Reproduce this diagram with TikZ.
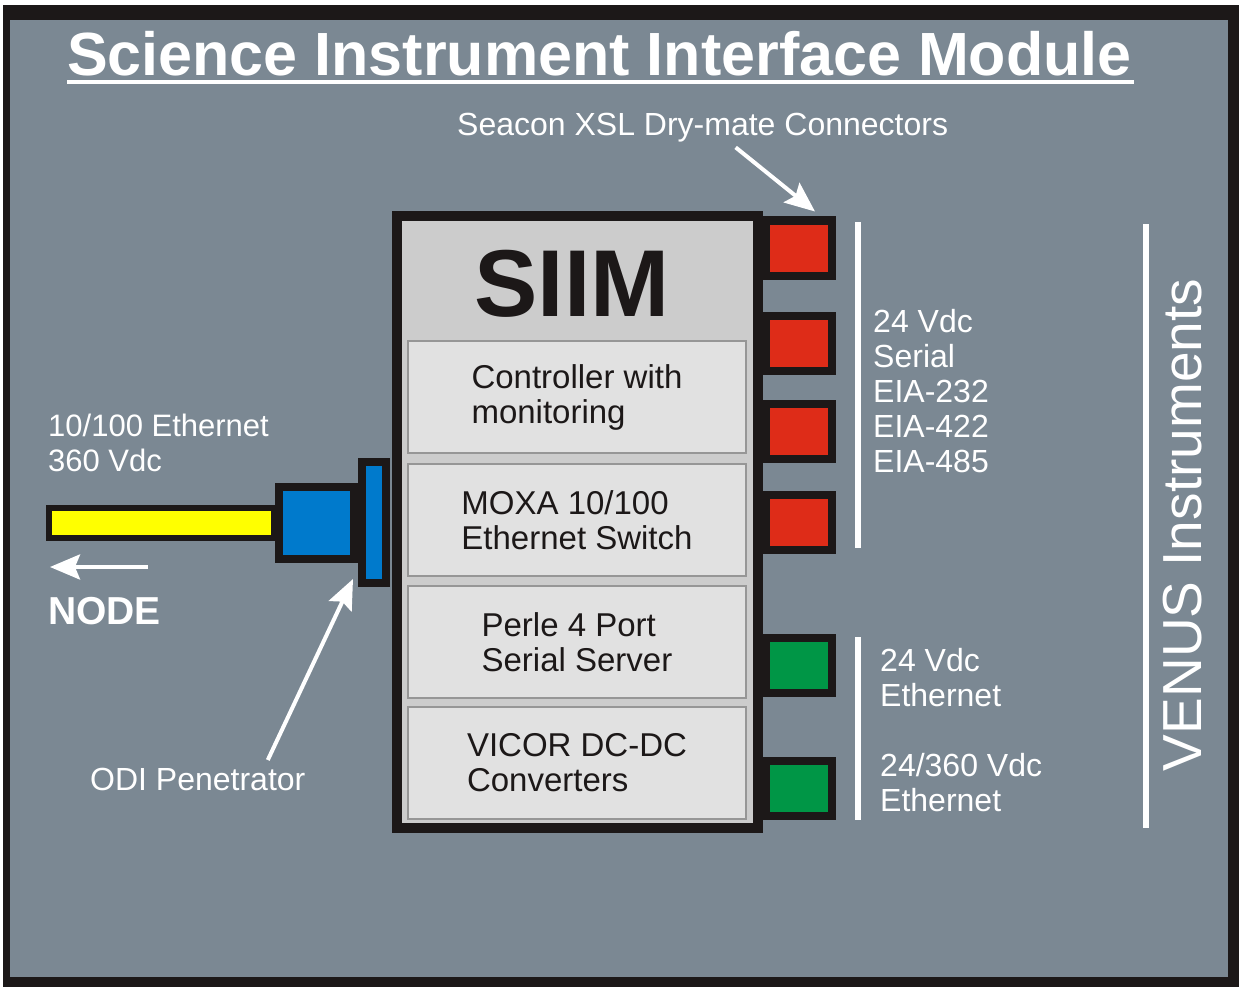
\documentclass[tikz,border=0pt]{standalone}
\usepackage{fontspec}
\setmainfont{Liberation Sans}
\usetikzlibrary{calc,arrows.meta}

\definecolor{panelgray}{RGB}{123,136,147}
\definecolor{siimgray}{RGB}{204,204,204}
\definecolor{cardgray}{RGB}{225,225,225}
\definecolor{cardedge}{RGB}{150,150,150}
\definecolor{plugred}{RGB}{222,44,24}
\definecolor{pluggreen}{RGB}{0,150,70}
\definecolor{penblue}{RGB}{0,122,204}
\definecolor{cableyellow}{RGB}{255,255,0}
\definecolor{inkblack}{RGB}{28,24,24}

\tikzset{
	card/.style={draw=cardedge,line width=2pt,fill=cardgray,minimum width=338pt,minimum height=112pt,align=left,text=inkblack,font=\fontsize{33}{35}\selectfont},
	plug/.style={draw=inkblack,line width=8pt,minimum width=66pt,minimum height=55pt,inner sep=0pt},
	lbl/.style={text=white,inner sep=0pt,align=left,anchor=north west,font=\fontsize{32}{35}\selectfont},
	whitebar/.style={white,line width=6pt},
	pointer/.style={white,line width=4pt,-{Stealth[length=30pt,width=25pt,inset=5pt]}}
}

\begin{document}
\begin{tikzpicture}[x=1pt,y=-1pt]
	\fill[white] (0,0) rectangle (1239,987);
	\fill[inkblack] (3,5) rectangle (1239,987);
	\fill[panelgray] (10,20) rectangle (1228,977);

	\node[lbl,font=\fontsize{61}{61}\selectfont\bfseries] (title) at (67,31) {Science Instrument Interface Module};
	\draw[white,line width=4pt] ($(title.south west)+(0,6)$) -- ($(title.south east)+(2,6)$);
	\node[lbl] (seacon) at (457,113) {Seacon XSL Dry-mate Connectors};

	\node[draw=inkblack,line width=10pt,fill=siimgray,minimum width=361pt,minimum height=612pt] (siim) at (577.5,522) {};
	\node[inner sep=0pt,anchor=north,text=inkblack,font=\fontsize{95}{95}\selectfont\bfseries] (siimlabel) at (572,250) {SIIM};
	\node[card] (ctrl) at (577,397) {Controller with\\monitoring};
	\node[card] (moxa) at (577,520) {MOXA 10/100\\Ethernet Switch};
	\node[card] (perle) at (577,642) {Perle 4 Port\\Serial Server};
	\node[card] (vicor) at (577,763) {VICOR DC-DC\\Converters};

	\foreach \y/\n in {248/r1,343.5/r2,431.5/r3,522/r4} {
		\node[plug,fill=plugred] (\n) at (799,\y) {};
	}
	\foreach \y/\n in {665/g1,788.5/g2} {
		\node[plug,fill=pluggreen] (\n) at (799,\y) {};
	}

	\node[draw=inkblack,line width=6pt,fill=cableyellow,minimum width=225pt,minimum height=30pt,inner sep=0pt] (cable) at (161.5,523) {};
	\node[draw=inkblack,line width=8pt,fill=penblue,minimum width=75pt,minimum height=72pt,inner sep=0pt] (plughead) at (316.5,523) {};
	\node[draw=inkblack,line width=8pt,fill=penblue,minimum width=24pt,minimum height=121pt,inner sep=0pt] (flange) at (374,522.5) {};

	\node[lbl,font=\fontsize{31}{35}\selectfont] (feed) at (48,414) {10/100 Ethernet\\360 Vdc};
	\node[lbl,font=\fontsize{39}{39}\selectfont\bfseries] (nodelabel) at (48,597) {NODE};
	\coordinate (nodetail) at (148,567);
	\coordinate (nodetip) at (50,567);
	\draw[pointer] (nodetail) -- (nodetip);
	\node[lbl] (odi) at (90,768) {ODI Penetrator};

	\draw[pointer] ($(seacon.south)+(33,5)$) -- ($(r1.north)+(16,-5)$);
	\draw[pointer] ($(odi.north)+(70,-8)$) -- ($(flange.south west)+(-5,-8)$);

	\draw[whitebar] (858,222) -- (858,548);
	\draw[whitebar] (858,637) -- (858,820);
	\draw[whitebar] (1146,224) -- (1146,828);
	\node[lbl] (seriallbl) at (873,309) {24 Vdc\\Serial\\EIA-232\\EIA-422\\EIA-485};
	\node[lbl] (ethlbl) at (880,648) {24 Vdc\\Ethernet};
	\node[lbl] (powerlbl) at (880,753) {24/360 Vdc\\Ethernet};
	\node[text=white,inner sep=0pt,rotate=90,font=\fontsize{55}{55}\selectfont] (venus) at (1183,525) {VENUS Instruments};
\end{tikzpicture}
\end{document}
